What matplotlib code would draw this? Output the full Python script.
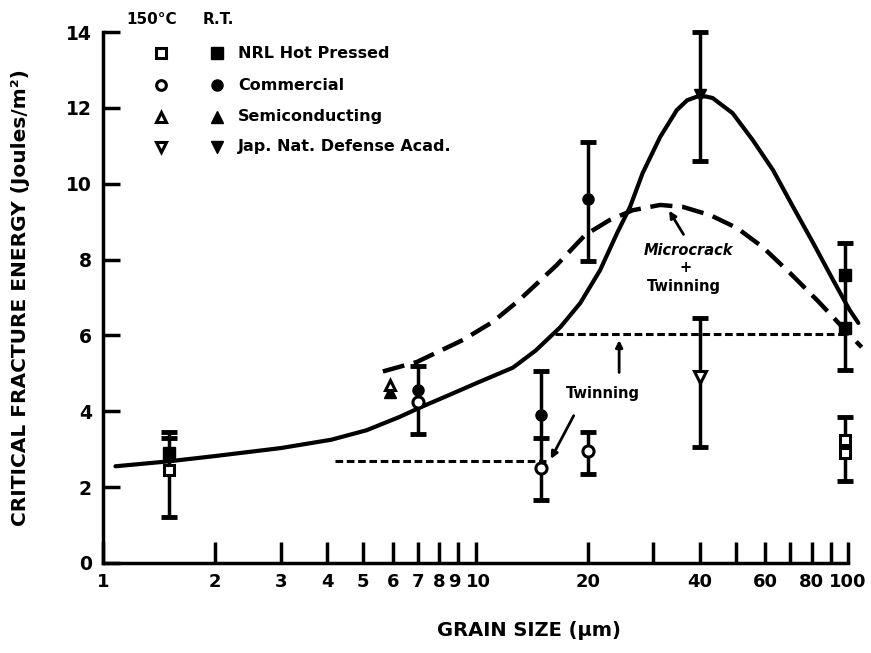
import numpy as np
import matplotlib
matplotlib.use('Agg')
import matplotlib.pyplot as plt
from matplotlib.transforms import ScaledTranslation

plt.rcParams['font.family'] = ['DejaVu Sans']
plt.rcParams['font.weight'] = 'bold'
plt.rcParams['axes.labelweight'] = 'bold'

# --- Data ---
# R.T. (filled) points
rt_sq_x = [1.5, 98, 98]
rt_sq_y = [2.9, 7.6, 6.2]
rt_ci_x = [7, 15, 20]
rt_ci_y = [4.55, 3.9, 9.6]
rt_tr_x = [5.9]
rt_tr_y = [4.5]
rt_dt_x = [40]
rt_dt_y = [12.35]

# 150 C (open) points
ht_sq_x = [1.5, 98, 98]
ht_sq_y = [2.45, 3.25, 2.9]
ht_ci_x = [7, 15, 20]
ht_ci_y = [4.25, 2.5, 2.95]
ht_tr_x = [5.9]
ht_tr_y = [4.7]
ht_dt_x = [40]
ht_dt_y = [4.9]

# error bars: x, center, low, high
err_x = [1.5, 7, 15, 20, 20, 40, 40, 98, 98]
err_c = [2.9, 4.4, 3.9, 2.95, 9.6, 12.35, 4.9, 6.9, 3.0]
err_lo = [1.2, 3.4, 1.65, 2.35, 7.95, 10.6, 3.05, 5.1, 2.15]
err_hi = [3.45, 5.2, 5.05, 3.45, 11.1, 14.0, 6.45, 8.45, 3.85]
# extra inner caps
cap_x = [1.5, 15]
cap_y = [3.3, 3.3]

# solid curve (R.T.)
solid_x = [1.08, 1.5, 2, 3, 4.1, 5.1, 6.25, 7.1, 8.5, 10.1, 11.6, 12.6, 14.5, 16.9,
           19.1, 21.6, 24.0, 26.0, 28.1, 31.3, 34.7, 37.0, 39.4, 41.5, 43.3, 49.0,
           55.5, 62.9, 71.2, 80.6, 91.2, 101, 106.6]
solid_y = [2.55, 2.68, 2.82, 3.03, 3.25, 3.5, 3.85, 4.1, 4.43, 4.75, 5.0, 5.15, 5.6, 6.22,
           6.85, 7.72, 8.7, 9.39, 10.28, 11.23, 11.94, 12.2, 12.3, 12.3, 12.26, 11.86,
           11.15, 10.36, 9.39, 8.44, 7.46, 6.67, 6.33]

# dashed curve (Microcrack + Twinning)
dash_x = [5.64, 6.96, 9.25, 11.1, 13.1, 16.5, 19.7, 22.9, 26.4, 31.3, 36.0, 42.7,
          50.4, 59.0, 69.8, 82.6, 96.6, 108.8]
dash_y = [5.05, 5.3, 5.88, 6.35, 6.93, 7.85, 8.65, 9.04, 9.3, 9.44, 9.39, 9.17,
          8.83, 8.33, 7.65, 6.93, 6.22, 5.69]

# Twinning levels
twin_lo_x = [4.2, 15.5]
twin_lo_y = [2.7, 2.7]
twin_hi_x = [16.3, 100]
twin_hi_y = [6.05, 6.05]

x_ticks = [1, 2, 3, 4, 5, 6, 7, 8, 9, 10, 20, 30, 40, 50, 60, 70, 80, 90, 100]
x_labels = ['1', '2', '3', '4', '5', '6', '7', '8', '9', '10', '20', '', '40', '',
            '60', '', '80', '', '100']

fig = plt.figure(figsize=(8.71, 6.53), dpi=100)
ax = fig.add_axes([103 / 871, 1 - 563 / 653, 745 / 871, 531 / 653])

ax.set_xscale('log')
ax.set_xlim(1, 100)
ax.set_ylim(0, 14)

# curves
ax.plot(solid_x, solid_y, color='k', lw=3, clip_on=False, solid_capstyle='round',
        solid_joinstyle='round')
ax.plot(dash_x, dash_y, color='k', lw=3.2, ls=(0, (5, 2.2)), clip_on=False)
ax.plot(twin_lo_x, twin_lo_y, color='k', lw=2.2, ls=(0, (2.5, 1.2)))
ax.plot(twin_hi_x, twin_hi_y, color='k', lw=2.2, ls=(0, (2.5, 1.2)), clip_on=False)

# error bars
err_c = np.array(err_c)
yerr = [err_c - np.array(err_lo), np.array(err_hi) - err_c]
ax.errorbar(err_x, err_c, yerr=yerr, fmt='none', ecolor='k', elinewidth=2.5,
            capsize=6, capthick=3.5, clip_on=False)
ax.plot(cap_x, cap_y, ls='none', marker='_', ms=12, mew=3.5, color='k')

# markers
ms = 8
mew = 2.2
ax.plot(rt_sq_x, rt_sq_y, 's', color='k', ms=ms, clip_on=False)
ax.plot(rt_ci_x, rt_ci_y, 'o', color='k', ms=ms)
ax.plot(rt_tr_x, rt_tr_y, '^', color='k', ms=ms)
ax.plot(rt_dt_x, rt_dt_y, 'v', color='k', ms=ms)
ax.plot(ht_sq_x, ht_sq_y, 's', mfc='white', mec='k', mew=mew, ms=ms - 1, clip_on=False)
ax.plot(ht_ci_x, ht_ci_y, 'o', mfc='white', mec='k', mew=mew, ms=ms)
ax.plot(ht_tr_x, ht_tr_y, '^', mfc='white', mec='k', mew=mew, ms=ms - 1)
ax.plot(ht_dt_x, ht_dt_y, 'v', mfc='white', mec='k', mew=mew, ms=ms)

# annotations
ax.text(22.0, 4.48, 'Twinning', fontsize=10.5, ha='center', va='center')
ax.annotate('', xy=(15.8, 2.68), xytext=(18.5, 3.95),
            arrowprops=dict(arrowstyle='-|>', color='k', lw=2, mutation_scale=10))
ax.annotate('', xy=(24.3, 5.95), xytext=(24.3, 4.95),
            arrowprops=dict(arrowstyle='-|>', color='k', lw=2, mutation_scale=10))
ax.text(37.2, 8.25, 'Microcrack', fontsize=10.5, style='italic', ha='center', va='center')
ax.text(36.6, 7.8, '+', fontsize=10.5, ha='center', va='center')
ax.text(36.3, 7.3, 'Twinning', fontsize=10.5, ha='center', va='center')
ax.annotate('', xy=(32.8, 9.35), xytext=(36.5, 8.6),
            arrowprops=dict(arrowstyle='-|>', color='k', lw=2, mutation_scale=10))

# legend drawn by hand
def fx(px):
    return (px - 103) / 745

def fy(py):
    return (563 - py) / 531

ax.text(fx(152), fy(20), '150°C', transform=ax.transAxes, fontsize=11,
        ha='center', va='center')
ax.text(fx(203), fy(20), 'R.T.', transform=ax.transAxes, fontsize=11,
        ha='left', va='center')
leg_names = ['NRL Hot Pressed', 'Commercial', 'Semiconducting', 'Jap. Nat. Defense Acad.']
leg_marks = ['s', 'o', '^', 'v']
leg_rows = [53, 85, 117, 147]
for name, mk, row in zip(leg_names, leg_marks, leg_rows):
    ax.plot([fx(161)], [fy(row)], mk, mfc='white', mec='k', mew=mew, ms=7,
            transform=ax.transAxes, clip_on=False)
    ax.plot([fx(217)], [fy(row)], mk, color='k', ms=8,
            transform=ax.transAxes, clip_on=False)
    ax.text(fx(238), fy(row), name, transform=ax.transAxes, fontsize=11.5,
            ha='left', va='center')

# axes styling
for s in ['top', 'right']:
    ax.spines[s].set_visible(False)
for s in ['left', 'bottom']:
    ax.spines[s].set_linewidth(2.5)

ax.xaxis.set_major_locator(matplotlib.ticker.FixedLocator(x_ticks))
ax.xaxis.set_minor_locator(matplotlib.ticker.NullLocator())
ax.set_xticklabels(x_labels)
ax.set_yticks(np.arange(0, 15, 2))
ax.tick_params(axis='x', direction='in', length=15, width=2.5, labelsize=13, pad=7)
ax.tick_params(axis='y', direction='in', length=12, width=2.5, labelsize=13.5, pad=8)

# nudge the crowded "9" and "10" labels apart
for lbl in ax.get_xticklabels():
    if lbl.get_text() == '9':
        lbl.set_transform(lbl.get_transform() + ScaledTranslation(-3 / 72, 0, fig.dpi_scale_trans))
    elif lbl.get_text() == '10':
        lbl.set_transform(lbl.get_transform() + ScaledTranslation(2 / 72, 0, fig.dpi_scale_trans))

ax.set_xlabel('GRAIN SIZE (μm)', fontsize=14)
ax.xaxis.set_label_coords(0.572, -0.11)
ax.set_ylabel('CRITICAL FRACTURE ENERGY (Joules/m²)', fontsize=14.5)
ax.yaxis.set_label_coords(-0.098, 0.5)

fig.savefig('out.png', dpi=100)
